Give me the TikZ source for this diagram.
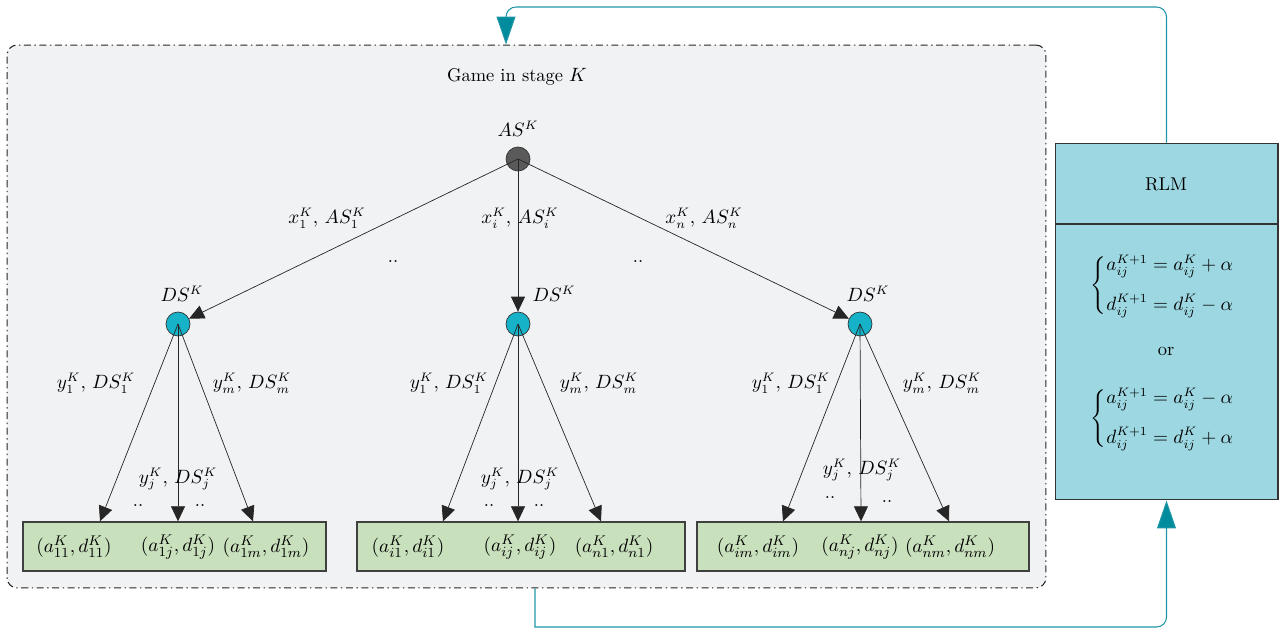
\documentclass[tikz,border=0pt]{standalone}
\usepackage{amsmath}
\usetikzlibrary{arrows.meta}

\definecolor{stagegray}{RGB}{241,242,244}
\definecolor{asgray}{RGB}{90,90,90}
\definecolor{dscyan}{RGB}{22,178,200}
\definecolor{leafgreen}{RGB}{201,224,188}
\definecolor{rlmblue}{RGB}{157,216,226}
\definecolor{feedteal}{RGB}{30,150,166}
\definecolor{tipteal}{RGB}{0,140,156}

\tikzset{
  every node/.style={font=\fontsize{10.5}{12.5}\selectfont, inner sep=1pt},
  player/.style={circle, draw=black!80, minimum size=0.48cm, inner sep=0pt},
  leafbox/.style={draw=black!75, fill=leafgreen, minimum height=0.98cm, inner sep=0pt, thick},
  payoff/.style={font=\fontsize{11}{13}\selectfont, inner sep=0.5pt},
  dots/.style={inner sep=0pt},
  move/.style={-{Triangle[length=0.3cm,width=0.28cm]}, black!85},
  feed/.style={feedteal, semithick, -{Triangle[length=0.56cm,width=0.38cm,fill=tipteal]}},
}

\begin{document}
\begin{tikzpicture}[x=0.02cm, y=-0.02cm]
      \useasboundingbox (0,0) rectangle (1283,628);

      % Stage box
      \node[draw=black!85, fill=stagegray, rounded corners=0.2cm, semithick,
            dash pattern=on 4pt off 2pt on 0.8pt off 2pt,
            minimum width=20.78cm, minimum height=10.86cm] (game) at (526.5,316.5) {};
      \node (title) at (517,77) {Game in stage $K$};

      % RLM box
      \node[draw=black!80, fill=rlmblue, minimum width=4.46cm, minimum height=7.14cm, semithick] (rlm) at (1166.5,321.5) {};
      \coordinate (rlmL) at (1055,224);
      \coordinate (rlmR) at (1278,224);
      \draw[black!80, semithick] (rlmL) -- (rlmR);
      \node (rlmtitle) at (1166,184) {RLM};
      \node (eqA) at (1163,286) {$\left\{\begin{aligned} a_{ij}^{K+1} &= a_{ij}^{K} + \alpha\\[5pt] d_{ij}^{K+1} &= d_{ij}^{K} - \alpha\end{aligned}\right.$};
      \node (eqor) at (1166,351) {or};
      \node (eqB) at (1163,419) {$\left\{\begin{aligned} a_{ij}^{K+1} &= a_{ij}^{K} - \alpha\\[5pt] d_{ij}^{K+1} &= d_{ij}^{K} + \alpha\end{aligned}\right.$};

      % Players
      \node[player, fill=asgray] (AS) at (518,159) {};
      \node (ASlab) at (518,129) {$AS^K$};
      \node[player, fill=dscyan] (DS1) at (178,324) {};
      \node[player, fill=dscyan] (DS2) at (518,324) {};
      \node[player, fill=dscyan] (DS3) at (860,324) {};
      \node (DS1lab) at (182,294) {$DS^K$};
      \node (DS2lab) at (554,294) {$DS^K$};
      \node (DS3lab) at (868,294) {$DS^K$};

      % Leaf boxes
      \node[leafbox, minimum width=6.06cm] (leaf1) at (174.5,546.5) {};
      \node[leafbox, minimum width=6.56cm] (leaf2) at (521,546.5) {};
      \node[leafbox, minimum width=6.64cm] (leaf3) at (863,546.5) {};

      \node[payoff] (p11) at (74,547) {$(a_{11}^K, d_{11}^K)$};
      \node[payoff] (p1j) at (178,547) {$(a_{1j}^K, d_{1j}^K)$};
      \node[payoff] (p1m) at (266,547) {$(a_{1m}^K, d_{1m}^K)$};
      \node[payoff] (pi1) at (408,547) {$(a_{i1}^K, d_{i1}^K)$};
      \node[payoff] (pij) at (520,547) {$(a_{ij}^K, d_{ij}^K)$};
      \node[payoff] (pn1) at (614,547) {$(a_{n1}^K, d_{n1}^K)$};
      \node[payoff] (pim) at (758,547) {$(a_{im}^K, d_{im}^K)$};
      \node[payoff] (pnj) at (860,547) {$(a_{nj}^K, d_{nj}^K)$};
      \node[payoff] (pnm) at (950,547) {$(a_{nm}^K, d_{nm}^K)$};

      % Attacker moves
      \draw[move] (AS.center) -- (DS1);
      \draw[move] (AS.center) -- (DS2);
      \draw[move] (AS.center) -- (DS3);
      \node (x1) at (327,218) {$x_1^K,\, AS_1^K$};
      \node (xi) at (520,218) {$x_i^K,\, AS_i^K$};
      \node (xn) at (704,218) {$x_n^K,\, AS_n^K$};
      \node[dots] (dotsA) at (393,262) {..};
      \node[dots] (dotsB) at (638,262) {..};

      % Defender moves
      \foreach \d/\l/\xa/\xb/\xc in {DS1/leaf1/100/178/253, DS2/leaf2/443/518/601, DS3/leaf3/783/861/949} {
        \draw[move] (\d.center) -- (\l.north -| \xa,0);
        \draw[move] (\d.center) -- (\l.north -| \xb,0);
        \draw[move] (\d.center) -- (\l.north -| \xc,0);
      }
      \node (y1a) at (96,383) {$y_1^K,\, DS_1^K$};
      \node (yma) at (252,383) {$y_m^K,\, DS_m^K$};
      \node (yja) at (178,479) {$y_j^K,\, DS_j^K$};
      \node (y1b) at (449,383) {$y_1^K,\, DS_1^K$};
      \node (ymb) at (599,383) {$y_m^K,\, DS_m^K$};
      \node (yjb) at (520,479) {$y_j^K,\, DS_j^K$};
      \node (y1c) at (791,383) {$y_1^K,\, DS_1^K$};
      \node (ymc) at (942,383) {$y_m^K,\, DS_m^K$};
      \node (yjc) at (862,470) {$y_j^K,\, DS_j^K$};
      \node[dots] (d1) at (138,506) {..};
      \node[dots] (d2) at (200,506) {..};
      \node[dots] (d3) at (489,506) {..};
      \node[dots] (d4) at (539,506) {..};
      \node[dots] (d5) at (830,498) {..};
      \node[dots] (d6) at (887,502) {..};

      % Feedback loop
      \coordinate (topL) at (506,7);
      \coordinate (botL) at (535,627);
      \draw[feed] (rlm.north) [rounded corners=0.2cm] |- (topL) [sharp corners] -- (game.north -| topL);
      \draw[feed] (game.south -| botL) -- (botL) [rounded corners=0.2cm] -| (rlm.south);

    \end{tikzpicture}
\end{document}
